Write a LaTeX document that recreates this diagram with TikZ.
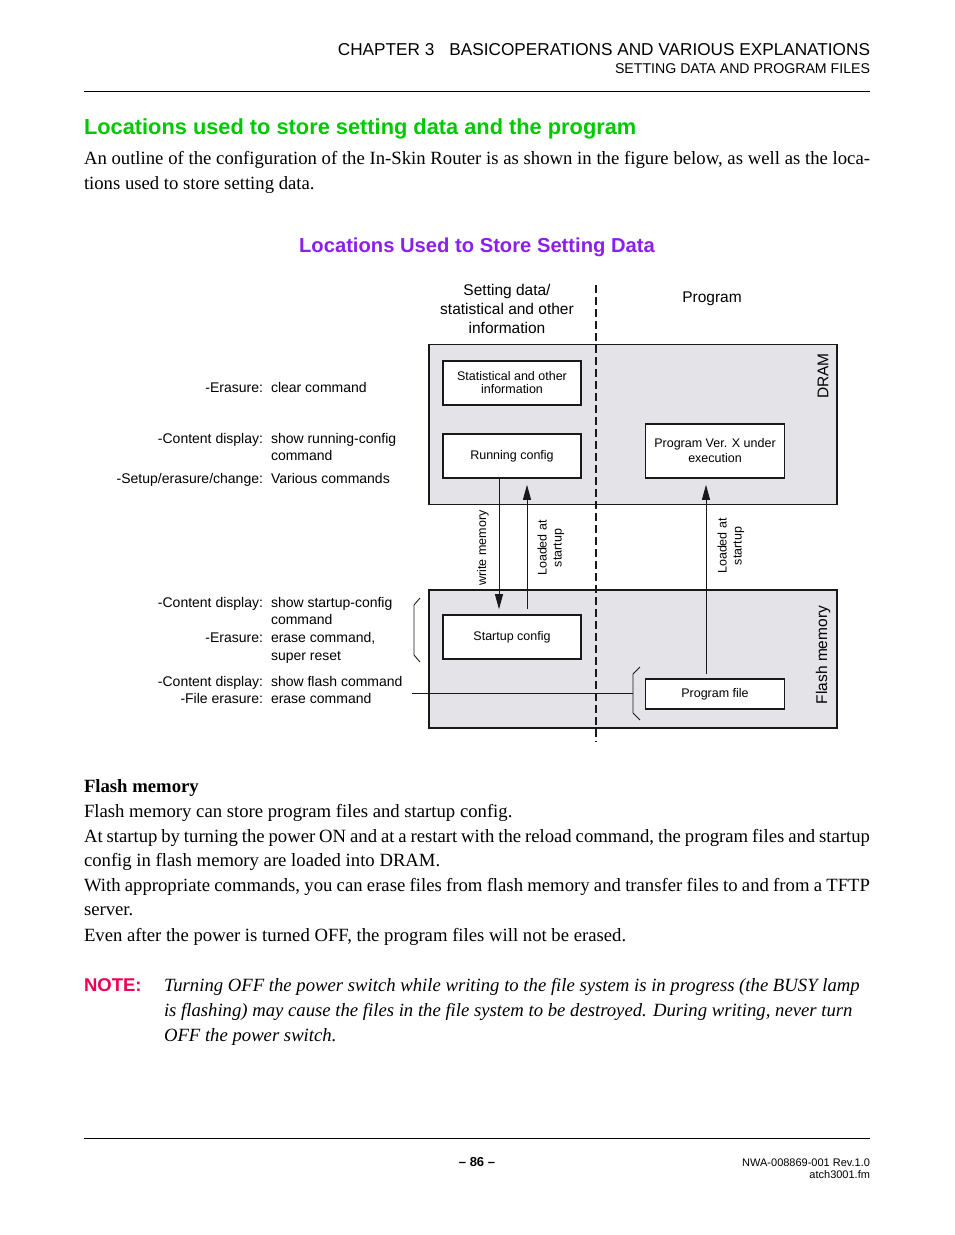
\documentclass[tikz,border=0pt]{standalone}
\usepackage{fontspec}
\setmainfont{Liberation Serif}
\setsansfont{Liberation Sans}
\usetikzlibrary{arrows.meta}
\newcommand{\myfs}[2]{\fontsize{#1pt}{#2pt}\selectfont}
\definecolor{titlegreen}{RGB}{0,200,0}
\definecolor{figpurple}{RGB}{140,30,240}
\definecolor{notered}{RGB}{240,0,80}
\definecolor{boxgray}{RGB}{228,228,232}
\definecolor{ink}{RGB}{25,25,25}
\tikzset{
  txt/.style={inner sep=0pt, outer sep=0pt},
  body/.style={txt, anchor=base west, font=\myfs{18.7}{22}},
  lab/.style={txt, font=\sffamily\myfs{14}{17}},
  labl/.style={lab, anchor=base east},
  labr/.style={lab, anchor=base west},
  membox/.style={draw=ink, line width=1.8pt, fill=boxgray, inner sep=0pt},
  itembox/.style={draw=ink, line width=1.6pt, fill=white, inner sep=0pt, align=center,
    minimum width=138pt, font=\sffamily\myfs{12.5}{13}},
  arr/.style={draw=ink, line width=0.9pt, -{Triangle[length=15pt,width=8pt]}},
  plain/.style={draw=ink, line width=0.9pt},
  rot/.style={txt, rotate=90, align=center, font=\sffamily\myfs{12.5}{15}},
}
\begin{document}
\begin{tikzpicture}[x=1pt,y=-1pt]
\useasboundingbox (0,0) rectangle (954,1235);
% header
\node[txt, anchor=base east, font=\sffamily\myfs{17.2}{20}] (h1) at (870,55) {CHAPTER 3\hspace{0.6em} BASICOPERATIONS AND VARIOUS EXPLANATIONS};
\node[txt, anchor=base east, font=\sffamily\myfs{14.15}{17}] (h2) at (870,73) {SETTING DATA AND PROGRAM FILES};
\draw[line width=1pt] (84,91) -- (870,91);
% section title
\node[txt, anchor=base west, font=\sffamily\bfseries\myfs{21.8}{26}, text=titlegreen] (sec) at (84,134) {Locations used to store setting data and the program};
\node[body] (p1a) at (84,164) {\makebox[786pt][s]{An outline of the configuration of the In-Skin Router is as shown in the figure below, as well as the loca-}};
\node[body] (p1b) at (84,189) {tions used to store setting data.};
% figure title
\node[txt, anchor=base, font=\sffamily\bfseries\myfs{20.2}{24}, text=figpurple] (figt) at (477,252) {Locations Used to Store Setting Data};

% memory areas
\node[membox, minimum width=408pt, minimum height=160pt] (dram) at (633,424.5) {};
\node[membox, minimum width=408pt, minimum height=138pt] (flash) at (633,659) {};
\node[txt, rotate=90, font=\sffamily\myfs{15.5}{18}] (dramlab) at (823,376) {DRAM};
\node[txt, rotate=90, font=\sffamily\myfs{15.5}{18}] (flashlab) at (823,655) {Flash memory};

% dashed divider
\coordinate (dtop) at (596,285);
\coordinate (dbot) at (596,742);
\draw[ink, line width=2pt, dash pattern=on 8pt off 4pt] (dtop) -- (dbot);

% column headings
\node[txt, anchor=center, align=center, font=\sffamily\myfs{15.5}{19}] (colA) at (507,309) {Setting data/\\statistical and other\\information};
\node[txt, anchor=base, font=\sffamily\myfs{15.5}{19}] (colB) at (712,302) {Program};

% item boxes
\node[itembox, minimum height=44pt] (stat) at (512,383) {Statistical and other\\information};
\node[itembox, minimum height=44pt] (run) at (512,456) {Running config};
\node[itembox, minimum height=54pt, minimum width=139pt, font=\sffamily\myfs{12.5}{15}] (pexec) at (715,451) {Program Ver. X under\\execution};
\node[itembox, minimum height=44pt] (start) at (512,637) {Startup config};
\node[itembox, minimum height=30pt, minimum width=139pt] (pfile) at (715,694) {Program file};

% arrows
\draw[arr, shorten >=5pt] ([xshift=-13pt]run.south) -- ([xshift=-13pt]start.north);
\draw[arr, shorten <=5pt, shorten >=6pt] ([xshift=15pt]start.north) -- ([xshift=15pt]run.south);
\draw[arr, shorten <=4pt, shorten >=6pt] ([xshift=-9pt]pfile.north) -- ([xshift=-9pt]pexec.south);

% rotated arrow labels
\node[rot] (wm) at (483,548) {write memory};
\node[rot] (ld1) at (551,548) {Loaded at\\startup};
\node[rot] (ld2) at (731,546) {Loaded at\\startup};

% left labels
\node[labl] (l1) at (263,392) {-Erasure:};
\node[labr] (r1) at (271,392) {clear command};
\node[labl] (l2) at (263,443) {-Content display:};
\node[labr] (r2) at (271,443) {show running-config};
\node[labr] (r2b) at (271,460) {command};
\node[labl] (l3) at (263,483) {-Setup/erasure/change:};
\node[labr] (r3) at (271,483) {Various commands};
\node[labl] (l4) at (263,607) {-Content display:};
\node[labr] (r4) at (271,607) {show startup-config};
\node[labr] (r4b) at (271,624) {command};
\node[labl] (l5) at (263,642) {-Erasure:};
\node[labr] (r5) at (271,642) {erase command,};
\node[labr] (r5b) at (271,660) {super reset};
\node[labl] (l6) at (263,686) {-Content display:};
\node[labr] (r6) at (271,686) {show flash command};
\node[labl] (l7) at (263,703) {-File erasure:};
\node[labr] (r7) at (271,703) {erase command};

% brackets
\draw[plain] (420,598) -- (414,605) -- (414,655) -- (420,662);
\draw[plain] (640,667) -- (633,674) -- (633,713) -- (640,720);
\coordinate (hl) at (412,693);
\coordinate (hr) at (633,693);
\draw[plain] (hl) -- (hr);

% flash memory text
\node[body, font=\bfseries\myfs{18.7}{22}] (fm) at (84,792) {Flash memory};
\node[body] (f1) at (84,817) {Flash memory can store program files and startup config.};
\node[body] (f2) at (84,842) {\makebox[786pt][s]{At startup by turning the power ON and at a restart with the reload command, the program files and startup}};
\node[body] (f3) at (84,866) {config in flash memory are loaded into DRAM.};
\node[body] (f4) at (84,891) {\makebox[786pt][s]{With appropriate commands, you can erase files from flash memory and transfer files to and from a TFTP}};
\node[body] (f5) at (84,915) {server.};
\node[body] (f6) at (84,941) {Even after the power is turned OFF, the program files will not be erased.};

% note
\node[txt, anchor=base west, font=\sffamily\bfseries\myfs{18.5}{20}, text=notered] (note) at (84,991) {NOTE:};
\node[body, font=\itshape\myfs{18.7}{22}] (n1) at (164,991) {Turning OFF the power switch while writing to the file system is in progress (the BUSY lamp};
\node[body, font=\itshape\myfs{18.7}{22}] (n2) at (164,1016) {is flashing) may cause the files in the file system to be destroyed. During writing, never turn};
\node[body, font=\itshape\myfs{18.7}{22}] (n3) at (164,1041) {OFF the power switch.};

% footer
\draw[line width=1pt] (84,1138) -- (870,1138);
\node[txt, anchor=base, font=\sffamily\bfseries\myfs{13}{15}] (pg) at (477,1166) {– 86 –};
\node[txt, anchor=base east, font=\sffamily\myfs{11}{13}] (ft1) at (870,1166) {NWA-008869-001 Rev.1.0};
\node[txt, anchor=base east, font=\sffamily\myfs{11}{13}] (ft2) at (870,1178) {atch3001.fm};
\end{tikzpicture}
\end{document}
